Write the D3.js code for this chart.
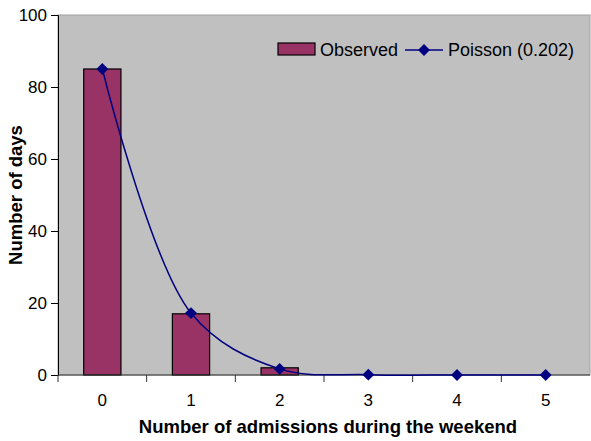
<!DOCTYPE html>
<html>
<head>
<meta charset="utf-8">
<script src="https://cdn.jsdelivr.net/npm/d3@7"></script>
<style>
  body { margin: 0; background: #fff; }
  text { font-family: Arial, "Liberation Sans", sans-serif; }
</style>
</head>
<body>
<div id="chart"></div>
<script>
// data
var categories = ["0", "1", "2", "3", "4", "5"];
var observed = [85, 17, 2, 0, 0, 0];
var poisson = [85, 17.2, 1.7, 0.1, 0, 0];
var yTicks = [0, 20, 40, 60, 80, 100];

var margin = {top: 15, right: 1, bottom: 66, left: 58},
    width = 591 - margin.left - margin.right,
    height = 441 - margin.top - margin.bottom;

var svg = d3.select("#chart").append("svg")
    .attr("width", 591)
    .attr("height", 441)
  .append("g")
    .attr("transform", "translate(" + margin.left + "," + margin.top + ")");

var x = d3.scaleBand()
    .domain(categories)
    .range([0, width])
    .paddingInner(0.58)
    .paddingOuter(0.29);

var xc = function(d) { return x(d) + x.bandwidth() / 2; };

var y = d3.scaleLinear()
    .domain([0, 100])
    .range([height, 0]);

// plot area
svg.append("rect")
    .attr("width", width)
    .attr("height", height)
    .style("fill", "#c0c0c0")
    .style("stroke", "#a0a0a0")
    .style("stroke-width", 1);

// bars
svg.selectAll(".bar")
    .data(observed)
  .enter().append("rect")
    .attr("class", "bar")
    .attr("x", function(d, i) { return x(categories[i]); })
    .attr("width", x.bandwidth())
    .attr("y", function(d) { return y(d); })
    .attr("height", function(d) { return height - y(d); })
    .style("fill", "#993366")
    .style("stroke", "#000")
    .style("stroke-width", 1.2);

// y axis
var yAxis = svg.append("g")
    .call(d3.axisLeft(y).tickValues(yTicks).tickSize(7).tickPadding(4));
yAxis.select(".domain").style("stroke", "#000");
yAxis.selectAll("text").style("font-size", "17px").style("fill", "#000");

// x axis (ticks between categories)
var step = width / categories.length;
var xAxisG = svg.append("g")
    .attr("transform", "translate(0," + height + ")");
xAxisG.append("line")
    .attr("x1", 0).attr("x2", width)
    .style("stroke", "#333").style("stroke-width", 1.2);
xAxisG.selectAll(".xt")
    .data(d3.range(categories.length))
  .enter().append("line")
    .attr("x1", function(i) { return i * step; })
    .attr("x2", function(i) { return i * step; })
    .attr("y1", 0).attr("y2", 7)
    .style("stroke", "#333");
xAxisG.selectAll(".xl")
    .data(categories)
  .enter().append("text")
    .attr("x", function(d) { return xc(d); })
    .attr("y", 31)
    .style("text-anchor", "middle")
    .style("font-size", "17px")
    .text(function(d) { return d; });

// poisson line
var line = d3.line()
    .x(function(d, i) { return xc(categories[i]); })
    .y(function(d) { return y(d); })
    .curve(d3.curveCatmullRom.alpha(0.5));

svg.append("path")
    .datum(poisson)
    .attr("d", line)
    .style("fill", "none")
    .style("stroke", "#000080")
    .style("stroke-width", 1.5);

var diamond = d3.symbol().type(d3.symbolDiamond2).size(90);
svg.selectAll(".pt")
    .data(poisson)
  .enter().append("path")
    .attr("class", "pt")
    .attr("d", diamond)
    .attr("transform", function(d, i) {
      return "translate(" + xc(categories[i]) + "," + y(d) + ")";
    })
    .style("fill", "#000080");

// axis titles
svg.append("text")
    .attr("transform", "translate(" + (-margin.left + 22) + "," + (height / 2) + ") rotate(-90)")
    .style("text-anchor", "middle")
    .style("font-size", "18.5px")
    .style("font-weight", "bold")
    .text("Number of days");

svg.append("text")
    .attr("x", width / 2 + 4)
    .attr("y", height + 58)
    .style("text-anchor", "middle")
    .style("font-size", "18.5px")
    .style("font-weight", "bold")
    .text("Number of admissions during the weekend");

// legend
var legend = svg.append("g")
    .attr("transform", "translate(" + (278 - margin.left) + "," + (43 - margin.top) + ")");
legend.append("rect")
    .attr("width", 37).attr("height", 12)
    .style("fill", "#993366").style("stroke", "#000").style("stroke-width", 1.2);
legend.append("text")
    .attr("x", 42).attr("y", 13)
    .style("font-size", "18px")
    .text("Observed");
legend.append("line")
    .attr("x1", 127).attr("x2", 165)
    .attr("y1", 7).attr("y2", 7)
    .style("stroke", "#000080").style("stroke-width", 1.5);
legend.append("path")
    .attr("d", diamond)
    .attr("transform", "translate(146,7)")
    .style("fill", "#000080");
legend.append("text")
    .attr("x", 170).attr("y", 13)
    .style("font-size", "18px")
    .text("Poisson (0.202)");
</script>
</body>
</html>
